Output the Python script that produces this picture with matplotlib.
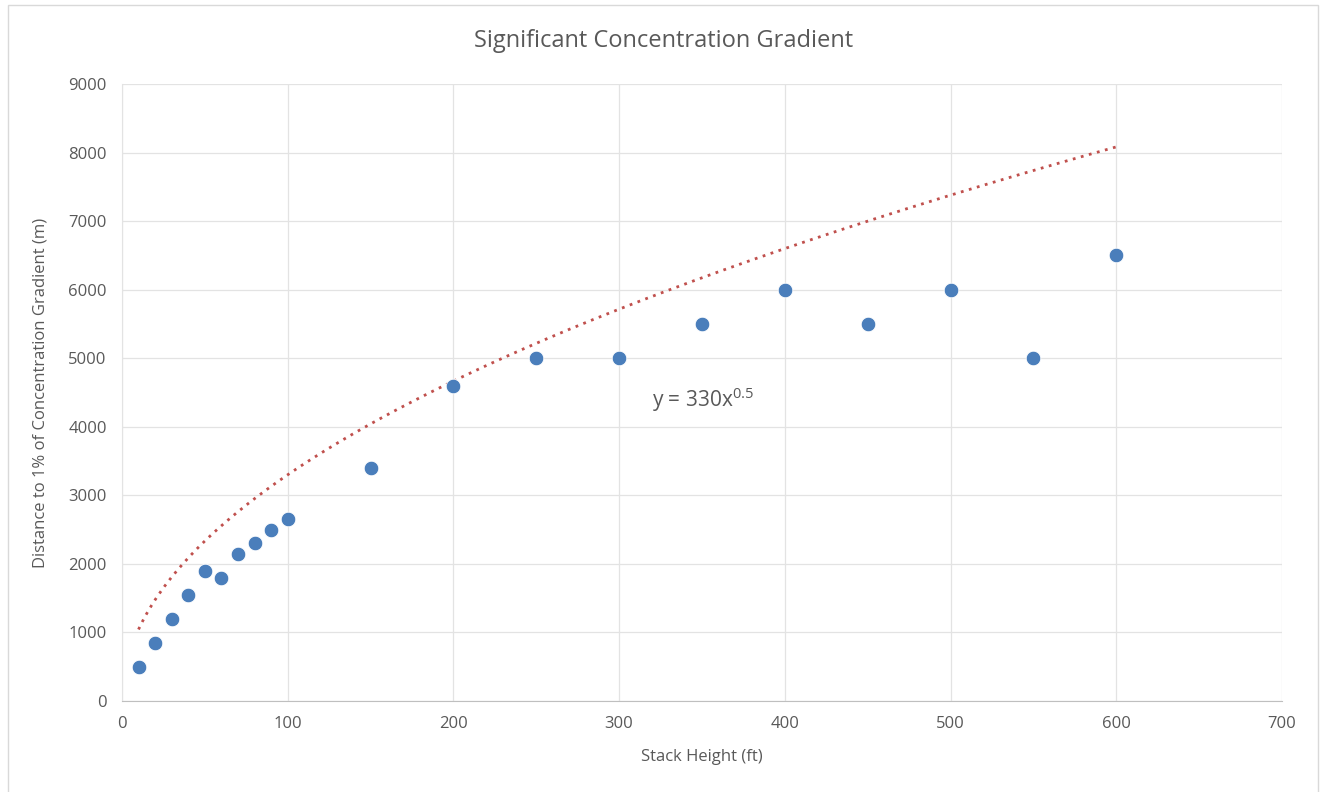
import numpy as np
import matplotlib.pyplot as plt
from matplotlib.patches import Rectangle

# Stack height (ft) vs distance to 1% of concentration gradient (m)
stack_height = [10, 20, 30, 40, 50, 60, 70, 80, 90, 100,
                150, 200, 250, 300, 350, 400, 450, 500, 550, 600]
distance = [500, 850, 1200, 1550, 1900, 1800, 2150, 2300, 2500, 2650,
            3400, 4600, 5000, 5000, 5500, 6000, 5500, 6000, 5000, 6500]

# power trendline shown on the chart: y = a * x^b
trend_a = 330
trend_b = 0.5

plt.rcParams['font.family'] = ['Open Sans', 'DejaVu Sans']
plt.rcParams['mathtext.default'] = 'regular'

fig = plt.figure(figsize=(13.24, 7.92), dpi=100)
ax = fig.add_axes([0.0921, 0.1149, 0.8762, 0.779])

# outer chart frame
fig.patches.append(Rectangle((8/1324, -0.01), 1310/1324, 1 - 5/792 + 0.01,
                             transform=fig.transFigure, fill=False,
                             edgecolor='#d9d9d9', linewidth=1))

xfit = np.linspace(min(stack_height), max(stack_height), 300)
ax.plot(xfit, trend_a * xfit**trend_b, color='#c0504d', linestyle=(0, (1, 2)),
        linewidth=2, zorder=2)
ax.scatter(stack_height, distance, s=110, color='#4a7ebb', edgecolor='white',
           linewidth=0.6, zorder=3)

ax.set_xlim(0, 700)
ax.set_ylim(0, 9000)
ax.set_xticks(range(0, 701, 100))
ax.set_yticks(range(0, 9001, 1000))
ax.grid(True, color='#e3e3e3', linewidth=0.9)
ax.set_axisbelow(True)
for s in ['top', 'right']:
    ax.spines[s].set_visible(False)
ax.spines['left'].set_color('#e3e3e3')
ax.spines['bottom'].set_color('#bfbfbf')
ax.tick_params(length=0, colors='#595959', labelsize=12, pad=11)

fig.text(0.5015, 1 - 41/792, 'Significant Concentration Gradient', fontsize=17,
         color='#595959', ha='center', va='center')
ax.set_xlabel('Stack Height (ft)', fontsize=12, color='#595959', labelpad=12)
ax.set_ylabel('Distance to 1% of Concentration Gradient (m)', fontsize=12,
              color='#595959', labelpad=14)

ax.text(320, 4390, 'y = 330x$^{0.5}$', fontsize=15, color='#595959', va='center')

fig.savefig('out.png', dpi=100)
